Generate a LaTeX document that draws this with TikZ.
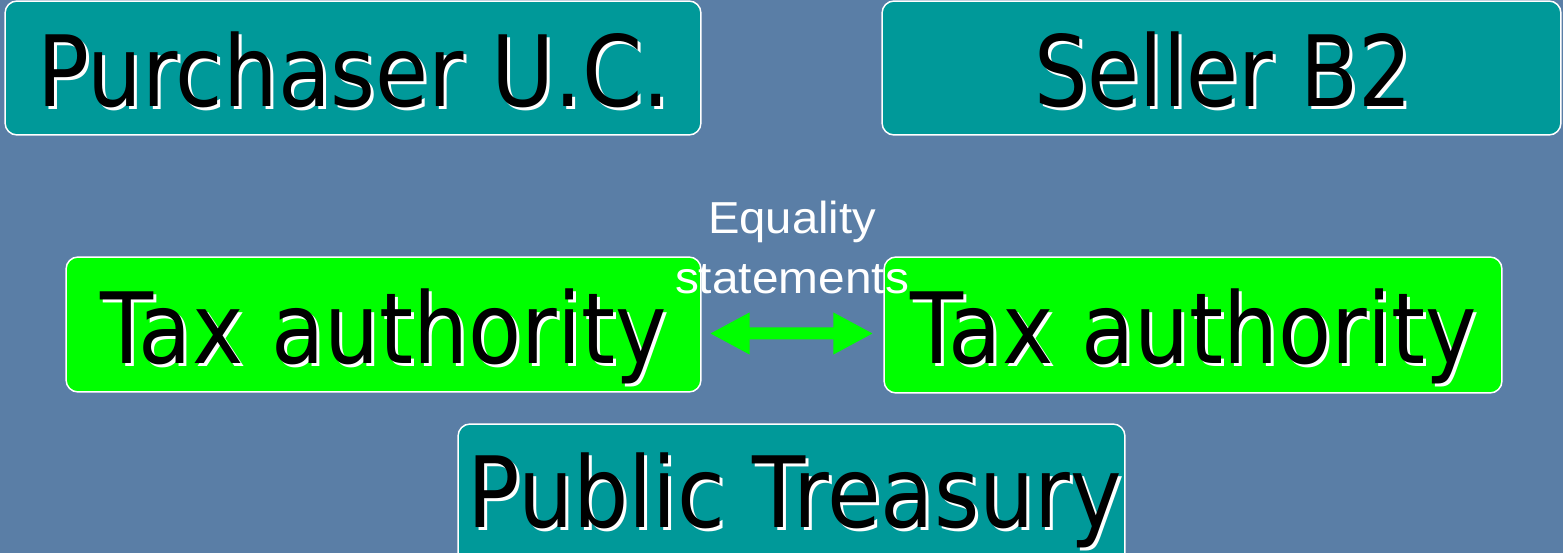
\documentclass[tikz,border=0pt]{standalone}
\usepackage{fontspec}
\setmainfont{DejaVu Sans}
\newfontfamily\arialfont{Liberation Sans}
\usetikzlibrary{arrows.meta}
\definecolor{bgblue}{HTML}{5A7EA6}
\definecolor{tealfill}{HTML}{009999}
\definecolor{greenfill}{HTML}{00FF00}
\newcommand\bigtxt[2]{\resizebox{#1}{\height}{\fontsize{56pt}{60pt}\selectfont #2}}
\newcommand\smalltxt[2]{\resizebox{#1}{\height}{\fontsize{25.5pt}{30pt}\selectfont\arialfont #2}}
\begin{document}
\begin{tikzpicture}[x=0.02cm,y=-0.02cm,
  boxbase/.style={rectangle,rounded corners=0.24cm,draw=white,line width=0.03cm,inner sep=0pt},
  tealbox/.style={boxbase,fill=tealfill},
  greenbox/.style={boxbase,fill=greenfill},
  lbl/.style={anchor=base,inner sep=0pt,text=black},
  shadowlbl/.style={anchor=base,inner sep=0pt,text=white},
  eqlbl/.style={anchor=base,inner sep=0pt,text=white},
  eqarrow/.style={draw=greenfill,line width=0.24cm,
    {Triangle[length=0.8cm,width=0.78cm]}-{Triangle[length=0.8cm,width=0.78cm]}}]
\useasboundingbox (0,0) rectangle (1563,553);
\clip (0,0) rectangle (1563,553);
\fill[bgblue] (0,0) rectangle (1563,553);
% boxes
\node[tealbox,minimum width=13.92cm,minimum height=2.68cm] (purch) at (353,68) {};
\node[tealbox,minimum width=13.58cm,minimum height=2.68cm] (seller) at (1221.5,68) {};
\node[greenbox,minimum width=12.7cm,minimum height=2.7cm] (taxL) at (383.5,324.5) {};
\node[greenbox,minimum width=12.36cm,minimum height=2.72cm] (taxR) at (1193,325) {};
\node[tealbox,minimum width=13.34cm,minimum height=2.92cm] (treas) at (791.5,497) {};
% shadows
\node[shadowlbl] (purchS) at (356.5,110) {\bigtxt{12.66cm}{Purchaser U.C.}};
\node[shadowlbl] (sellerS) at (1226,110) {\bigtxt{7.56cm}{Seller B2}};
\node[shadowlbl] (taxLS) at (386.5,367) {\bigtxt{11.34cm}{Tax authority}};
\node[shadowlbl] (taxRS) at (1196.5,367) {\bigtxt{11.34cm}{Tax authority}};
\node[shadowlbl] (treasS) at (797.5,531) {\bigtxt{13.1cm}{Public Treasury}};
% labels
\node[lbl] (purchT) at (353.5,107) {\bigtxt{12.66cm}{Purchaser U.C.}};
\node[lbl] (sellerT) at (1223,107) {\bigtxt{7.56cm}{Seller B2}};
\node[lbl] (taxLT) at (383.5,364) {\bigtxt{11.34cm}{Tax authority}};
\node[lbl] (taxRT) at (1193.5,364) {\bigtxt{11.34cm}{Tax authority}};
\node[lbl] (treasT) at (794.5,528) {\bigtxt{13.1cm}{Public Treasury}};
% arrow
\draw[eqarrow] ([xshift=0.16cm,yshift=-0.18cm]taxL.east) -- ([xshift=-0.2cm,yshift=-0.17cm]taxR.west);
% equality text
\node[eqlbl] (eq1) at (792,234) {\smalltxt{3.36cm}{Equality}};
\node[eqlbl] (eq2) at (792,294) {\smalltxt{4.68cm}{statements}};
\end{tikzpicture}
\end{document}
